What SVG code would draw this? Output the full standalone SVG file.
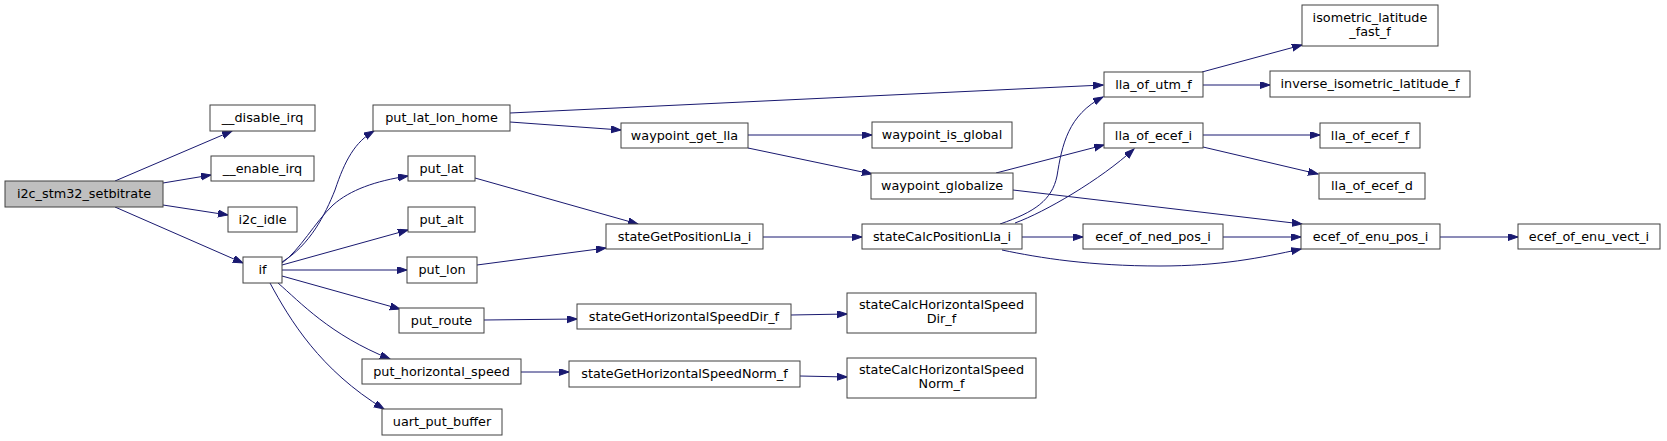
<svg xmlns="http://www.w3.org/2000/svg" width="1667" height="441" viewBox="0 0 1667 441">
<style>
.n rect{fill:#fff;stroke:#404040;stroke-width:1}
.n text{font-family:"DejaVu Sans","Liberation Sans",sans-serif;font-size:12.8px;fill:#000;text-anchor:middle}
#n0 rect{fill:#bfbfbf}
.e path{fill:none;stroke:#191970;stroke-width:1;marker-end:url(#ah)}
</style>
<defs>
<marker id="ah" markerUnits="userSpaceOnUse" markerWidth="11" markerHeight="8" refX="10" refY="3.5" orient="auto">
<path d="M0,0 L10,3.5 L0,7 z" fill="#191970" stroke="#191970" stroke-width="1"/>
</marker>
</defs>
<rect width="1667" height="441" fill="#fff"/>
<g class="e" id="edges">
<path d="M115,181 L232,131"/>
<path d="M163,183 L211,175"/>
<path d="M163,205 L228,215"/>
<path d="M115,207 L243,263"/>
<path d="M282,262 C310,245 325,215 335,190 C345,160 355,142 374,131"/>
<path d="M282,263 C300,250 315,222 333,205 C350,190 375,181 408,176"/>
<path d="M282,265 L408,230"/>
<path d="M282,270 L407,270"/>
<path d="M282,276 L400,309"/>
<path d="M278,283 C300,302 330,335 390,359"/>
<path d="M270,283 C290,320 320,370 384,409"/>
<path d="M510,113 L1103,85"/>
<path d="M510,122 L621,130"/>
<path d="M475,178 L638,224"/>
<path d="M477,265 L606,248"/>
<path d="M748,135 L872,135"/>
<path d="M748,148 L872,174"/>
<path d="M763,237 L862,237"/>
<path d="M484,320 L577,319"/>
<path d="M521,372 L569,372"/>
<path d="M791,315 L847,314"/>
<path d="M800,376 L847,377"/>
<path d="M996,173 L1104,145"/>
<path d="M1013,190 L1302,224"/>
<path d="M1000,224 C1035,212 1052,200 1057,176 C1062,145 1068,115 1103,97"/>
<path d="M1015,223 C1045,212 1100,180 1134,149"/>
<path d="M1022,237 L1083,237"/>
<path d="M1002,250 C1040,258 1090,266 1160,266 C1220,266 1260,258 1301,249"/>
<path d="M1223,237 L1301,237"/>
<path d="M1203,135 L1320,135"/>
<path d="M1203,147 L1318,174"/>
<path d="M1202,72 L1302,45"/>
<path d="M1203,85 L1270,85"/>
<path d="M1440,237 L1518,237"/>
</g>
<g class="n" id="n0"><rect x="5" y="181" width="158" height="26"/><text x="84" y="198">i2c_stm32_setbitrate</text></g>
<g class="n" id="n1"><rect x="210" y="105" width="105" height="26"/><text x="262.5" y="122">__disable_irq</text></g>
<g class="n" id="n2"><rect x="211" y="156" width="103" height="25"/><text x="262.5" y="172.5">__enable_irq</text></g>
<g class="n" id="n3"><rect x="228" y="207" width="69" height="25"/><text x="262.5" y="223.5">i2c_idle</text></g>
<g class="n" id="n4"><rect x="243" y="257" width="39" height="26"/><text x="262.5" y="274">if</text></g>
<g class="n" id="n5"><rect x="373" y="105" width="137" height="26"/><text x="441.5" y="122">put_lat_lon_home</text></g>
<g class="n" id="n6"><rect x="408" y="156" width="67" height="25"/><text x="441.5" y="172.5">put_lat</text></g>
<g class="n" id="n7"><rect x="408" y="207" width="67" height="25"/><text x="441.5" y="223.5">put_alt</text></g>
<g class="n" id="n8"><rect x="407" y="257" width="70" height="26"/><text x="442" y="274">put_lon</text></g>
<g class="n" id="n9"><rect x="399" y="308" width="85" height="25"/><text x="441.5" y="324.5">put_route</text></g>
<g class="n" id="n10"><rect x="362" y="359" width="159" height="25"/><text x="441.5" y="375.5">put_horizontal_speed</text></g>
<g class="n" id="n11"><rect x="382" y="409" width="120" height="26"/><text x="442" y="426">uart_put_buffer</text></g>
<g class="n" id="n12"><rect x="621" y="123" width="127" height="25"/><text x="684.5" y="139.5">waypoint_get_lla</text></g>
<g class="n" id="n13"><rect x="606" y="224" width="157" height="25"/><text x="684.5" y="240.5">stateGetPositionLla_i</text></g>
<g class="n" id="n14"><rect x="577" y="304" width="214" height="25"/><text x="684" y="320.5">stateGetHorizontalSpeedDir_f</text></g>
<g class="n" id="n15"><rect x="569" y="361" width="231" height="26"/><text x="684.5" y="378">stateGetHorizontalSpeedNorm_f</text></g>
<g class="n" id="n16"><rect x="1104" y="72" width="99" height="25"/><text x="1153.5" y="88.5">lla_of_utm_f</text></g>
<g class="n" id="n17"><rect x="872" y="122" width="140" height="26"/><text x="942" y="139">waypoint_is_global</text></g>
<g class="n" id="n18"><rect x="871" y="173" width="142" height="26"/><text x="942" y="190">waypoint_globalize</text></g>
<g class="n" id="n19"><rect x="862" y="224" width="160" height="25"/><text x="942" y="240.5">stateCalcPositionLla_i</text></g>
<g class="n" id="n20"><rect x="1083" y="224" width="140" height="25"/><text x="1153" y="240.5">ecef_of_ned_pos_i</text></g>
<g class="n" id="n21"><rect x="847" y="293" width="189" height="40"/><text x="941.5" y="309">stateCalcHorizontalSpeed</text><text x="941.5" y="323">Dir_f</text></g>
<g class="n" id="n22"><rect x="847" y="358" width="189" height="40"/><text x="941.5" y="374">stateCalcHorizontalSpeed</text><text x="941.5" y="388">Norm_f</text></g>
<g class="n" id="n23"><rect x="1302" y="5" width="136" height="41"/><text x="1370" y="21.5">isometric_latitude</text><text x="1370" y="35.5">_fast_f</text></g>
<g class="n" id="n24"><rect x="1270" y="71" width="200" height="26"/><text x="1370" y="88">inverse_isometric_latitude_f</text></g>
<g class="n" id="n25"><rect x="1104" y="123" width="99" height="25"/><text x="1153.5" y="139.5">lla_of_ecef_i</text></g>
<g class="n" id="n26"><rect x="1320" y="123" width="100" height="25"/><text x="1370" y="139.5">lla_of_ecef_f</text></g>
<g class="n" id="n27"><rect x="1319" y="173" width="106" height="26"/><text x="1372" y="190">lla_of_ecef_d</text></g>
<g class="n" id="n28"><rect x="1301" y="224" width="139" height="25"/><text x="1370.5" y="240.5">ecef_of_enu_pos_i</text></g>
<g class="n" id="n29"><rect x="1518" y="224" width="142" height="25"/><text x="1589" y="240.5">ecef_of_enu_vect_i</text></g>
</svg>
